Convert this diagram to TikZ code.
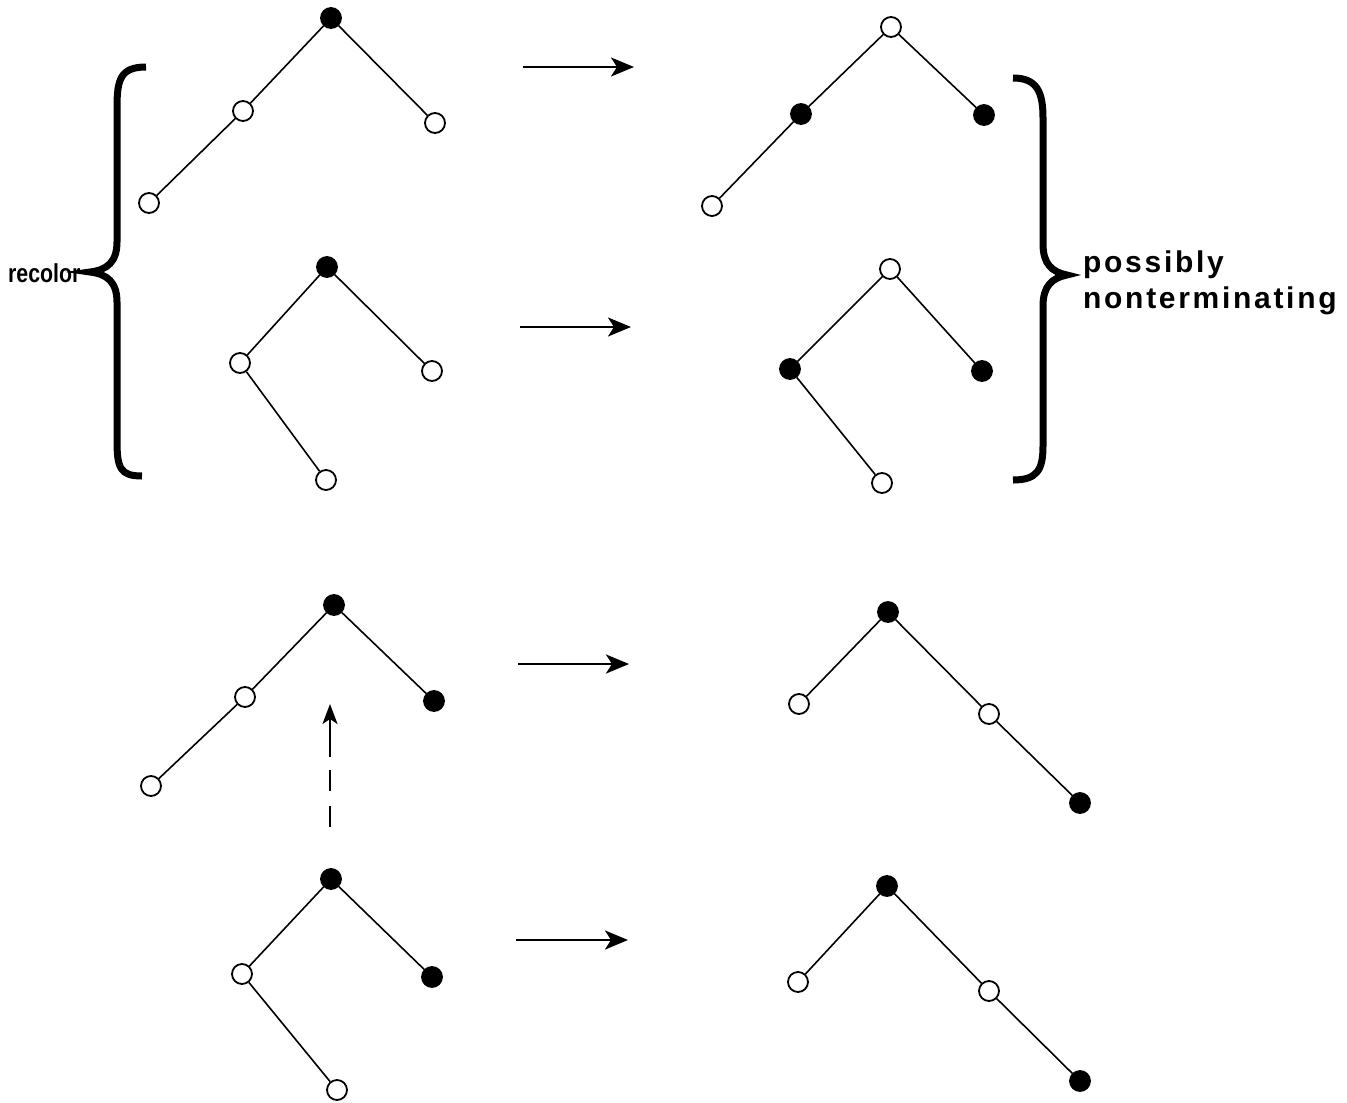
\documentclass[tikz,border=0pt]{standalone}
\usepackage{fontspec}
\setmainfont{Liberation Sans}
\newfontfamily\narrowfont[FakeStretch=0.82]{Liberation Sans}
\newfontfamily\spacedfont[LetterSpace=9]{Liberation Sans}
\usetikzlibrary{arrows.meta}
\begin{document}
\begin{tikzpicture}[x=1pt,y=-1pt,
  vtx/.style={circle,draw=black,line width=1.8pt,minimum size=20pt,inner sep=0pt},
  wn/.style={vtx,fill=white},
  bn/.style={vtx,fill=black},
  edge/.style={line width=1.6pt},
  maps/.style={line width=2.4pt,-{Stealth[length=23pt,width=19pt,inset=6pt]}},
  brace/.style={line width=7pt,line cap=butt},
  lbl/.style={anchor=base west,inner sep=0pt}]
\useasboundingbox (0,0) rectangle (1347,1103);

% ---- case 1: left subtree left-leaning ----
\node[bn] (a1) at (331,18) {};
\node[wn] (a2) at (243,111) {};
\node[wn] (a3) at (149,203) {};
\node[wn] (a4) at (435,123) {};
\draw[edge] (a1) -- (a2) (a2) -- (a3) (a1) -- (a4);

\node[wn] (b1) at (891,27) {};
\node[bn] (b2) at (801,114) {};
\node[wn] (b3) at (712,206) {};
\node[bn] (b4) at (984,115) {};
\draw[edge] (b1) -- (b2) (b2) -- (b3) (b1) -- (b4);

% ---- case 2: left subtree right-leaning ----
\node[bn] (c1) at (327,267) {};
\node[wn] (c2) at (240,363) {};
\node[wn] (c3) at (326,480) {};
\node[wn] (c4) at (432,371) {};
\draw[edge] (c1) -- (c2) (c2) -- (c3) (c1) -- (c4);

\node[wn] (d1) at (890,269) {};
\node[bn] (d2) at (790,369) {};
\node[wn] (d3) at (882,483) {};
\node[bn] (d4) at (982,371) {};
\draw[edge] (d1) -- (d2) (d2) -- (d3) (d1) -- (d4);

% ---- case 3: rotation ----
\node[bn] (e1) at (334,605) {};
\node[wn] (e2) at (245,697) {};
\node[wn] (e3) at (151,786) {};
\node[bn] (e4) at (434,701) {};
\draw[edge] (e1) -- (e2) (e2) -- (e3) (e1) -- (e4);

\node[bn] (f1) at (888,612) {};
\node[wn] (f2) at (799,704) {};
\node[wn] (f3) at (989,714) {};
\node[bn] (f4) at (1080,803) {};
\draw[edge] (f1) -- (f2) (f1) -- (f3) (f3) -- (f4);

% ---- case 4: double rotation ----
\node[bn] (g1) at (331,879) {};
\node[wn] (g2) at (242,974) {};
\node[wn] (g3) at (337,1090) {};
\node[bn] (g4) at (432,977) {};
\draw[edge] (g1) -- (g2) (g2) -- (g3) (g1) -- (g4);

\node[bn] (h1) at (887,886) {};
\node[wn] (h2) at (798,982) {};
\node[wn] (h3) at (989,991) {};
\node[bn] (h4) at (1080,1081) {};
\draw[edge] (h1) -- (h2) (h1) -- (h3) (h3) -- (h4);

% ---- transformation arrows ----
\coordinate (m1s) at (523,67);  \coordinate (m1e) at (634,67);
\coordinate (m2s) at (520,327); \coordinate (m2e) at (631,327);
\coordinate (m3s) at (518,664); \coordinate (m3e) at (629,664);
\coordinate (m4s) at (516,940); \coordinate (m4e) at (628,940);
\draw[maps] (m1s) -- (m1e);
\draw[maps] (m2s) -- (m2e);
\draw[maps] (m3s) -- (m3e);
\draw[maps] (m4s) -- (m4e);

% ---- dashed reduction arrow ----
\coordinate (u0) at (330,827);
\coordinate (u1) at (330,757);
\coordinate (u2) at (330,704);
\draw[line width=2pt,dash pattern=on 21pt off 15pt] (u0) -- (u1);
\draw[line width=2.2pt,-{Stealth[length=20pt,width=15pt,inset=5pt]}] (u1) -- (u2);

% ---- braces and labels ----
\draw[brace] (146,67) .. controls (120,67) and (117,80) .. (117,108) -- (117,242)
  .. controls (117,262) and (107,270) .. (90,272)
  .. controls (107,274) and (117,282) .. (117,302) -- (117,440)
  .. controls (117,468) and (120,476) .. (142,476);
\node[lbl] (recolor) at (8,282)
  {\narrowfont\bfseries\fontsize{26pt}{30pt}\selectfont recolor};

\draw[brace] (1013,78) .. controls (1037,78) and (1043,92) .. (1043,118) -- (1043,244)
  .. controls (1043,264) and (1052,272) .. (1067,275)
  .. controls (1052,278) and (1043,286) .. (1043,306) -- (1043,446)
  .. controls (1043,470) and (1037,480) .. (1013,480);
\node[lbl] (pos) at (1083,272)
  {\spacedfont\bfseries\fontsize{30pt}{34pt}\selectfont possibly};
\node[lbl] (nonterm) at (1083,308)
  {\spacedfont\bfseries\fontsize{30pt}{34pt}\selectfont nonterminating};
\end{tikzpicture}
\end{document}
